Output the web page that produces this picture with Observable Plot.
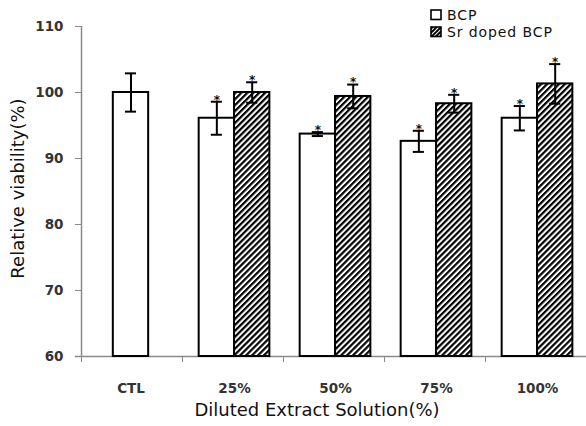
<!DOCTYPE html>
<html><head><meta charset="utf-8">
<script src="https://cdn.jsdelivr.net/npm/d3@7"></script>
<script src="https://cdn.jsdelivr.net/npm/@observablehq/plot@0.6"></script>
<style>html,body{margin:0;padding:0;background:#fff;} #chart{width:586px;height:426px;}</style>
</head><body><div id="chart"></div>
<script>
const categories = ["CTL", "25%", "50%", "75%", "100%"];
const seriesNames = ["BCP", "Sr doped BCP"];
const bcpMean = [100, 96.1, 93.7, 92.6, 96.1];
const bcpErr  = [2.9, 2.5, 0.3, 1.6, 1.85];
const bcpStar = [false, true, true, true, true];
const srMean  = [null, 100.0, 99.4, 98.3, 101.3];
const srErr   = [null, 1.55, 1.8, 1.35, 3.0];
const srStar  = [false, true, true, true, true];
const yTicks  = [60, 70, 80, 90, 100, 110];
const xTitle = "Diluted Extract Solution(%)";
const yTitle = "Relative viability(%)";

// layout helpers (in data units of the linear x scale, one unit per category band)
const W = 0.35;               // bar width
const cx = i => i + (i === 0 ? 0.49 : 0.515);
const rows = [];
categories.forEach((c, i) => {
  if (bcpMean[i] != null) rows.push({cat: c, i, s: 0, mean: bcpMean[i], err: bcpErr[i], star: bcpStar[i], single: srMean[i] == null});
  if (srMean[i] != null) rows.push({cat: c, i, s: 1, mean: srMean[i], err: srErr[i], star: srStar[i], single: false});
});
const x1 = d => d.single ? cx(d.i) - W / 2 : (d.s === 0 ? cx(d.i) - W : cx(d.i));
const x2 = d => x1(d) + W;
const xm = d => x1(d) + W / 2;
const CAP = 0.055;

const AX = "#8a8a8a";
const svg = Plot.plot({
  width: 586, height: 426,
  marginLeft: 81, marginRight: 0, marginTop: 26, marginBottom: 70,
  style: {fontFamily: "DejaVu Sans", background: "white", color: "#111"},
  x: {type: "linear", domain: [0, 5]},
  y: {domain: [60, 110]},
  marks: [
    Plot.axisY({ticks: yTicks, tickSize: 6, tickPadding: 12, stroke: AX, fill: "#333", fontSize: 13.5, fontWeight: "bold", label: null}),
    Plot.axisX({ticks: [0, 1, 2, 3, 4], tickSize: 6, tickFormat: () => "", stroke: AX, label: null}),
    Plot.axisX({ticks: categories.map((c, i) => cx(i)), tickSize: 0, tickPadding: 27, fill: "#333", fontSize: 13.5, fontWeight: "bold", tickFormat: v => categories[Math.floor(v)], label: null}),
    Plot.ruleY([60], {x1: -0.06, x2: 5, stroke: AX, strokeWidth: 1.5}),
    Plot.ruleX([0], {y1: 60, y2: 110, stroke: AX, strokeWidth: 1.5}),
    Plot.rect(rows, {x1, x2, y1: 60, y2: "mean", fill: d => d.s === 0 ? "white" : "url(#hatch)", stroke: "black", strokeWidth: 2}),
    Plot.ruleX(rows, {x: xm, y1: d => d.mean - d.err, y2: d => d.mean + d.err, stroke: "black", strokeWidth: 2}),
    Plot.ruleY(rows, {y: d => d.mean + d.err, x1: d => xm(d) - CAP, x2: d => xm(d) + CAP, stroke: "black", strokeWidth: 2}),
    Plot.ruleY(rows, {y: d => d.mean - d.err, x1: d => xm(d) - CAP, x2: d => xm(d) + CAP, stroke: "black", strokeWidth: 2}),
    Plot.text(rows.filter(d => d.star), {x: xm, y: d => d.mean + d.err, text: () => "*", dy: -2, fontSize: 12, fontWeight: "bold", fill: "#111"}),
    Plot.text([xTitle], {frameAnchor: "bottom", text: d => d, dx: -17, dy: 59, fontSize: 18, fill: "#111"}),
    Plot.text([yTitle], {frameAnchor: "left", textAnchor: "middle", text: d => d, rotate: -90, dx: -63, dy: -3, fontSize: 18, fill: "#111"})
  ]
});

const s = d3.select(svg);
const defs = s.insert("defs", ":first-child");
const hp = defs.append("pattern").attr("id", "hatch").attr("patternUnits", "userSpaceOnUse")
  .attr("width", 4.2).attr("height", 4.2).attr("patternTransform", "rotate(45)");
hp.append("rect").attr("width", 4.2).attr("height", 4.2).attr("fill", "white");
hp.append("rect").attr("width", 2.2).attr("height", 4.2).attr("fill", "black");
const hs = defs.append("pattern").attr("id", "hatchSmall").attr("patternUnits", "userSpaceOnUse")
  .attr("width", 3).attr("height", 3).attr("patternTransform", "rotate(45)");
hs.append("rect").attr("width", 3).attr("height", 3).attr("fill", "white");
hs.append("rect").attr("width", 2).attr("height", 3).attr("fill", "black");

// legend
const lg = s.append("g").attr("font-family", "DejaVu Sans").attr("font-size", 14).attr("letter-spacing", 0.9).attr("text-anchor", "start");
seriesNames.forEach((name, k) => {
  const y0 = 10 + k * 17;
  lg.append("rect").attr("x", 431).attr("y", y0).attr("width", 10).attr("height", 9.5)
    .attr("fill", k === 0 ? "white" : "url(#hatchSmall)").attr("stroke", "black").attr("stroke-width", 1.6);
  lg.append("text").attr("x", 447).attr("y", y0 + 10).attr("fill", "#111").text(name);
});

document.getElementById("chart").appendChild(svg);
</script>
</body></html>
